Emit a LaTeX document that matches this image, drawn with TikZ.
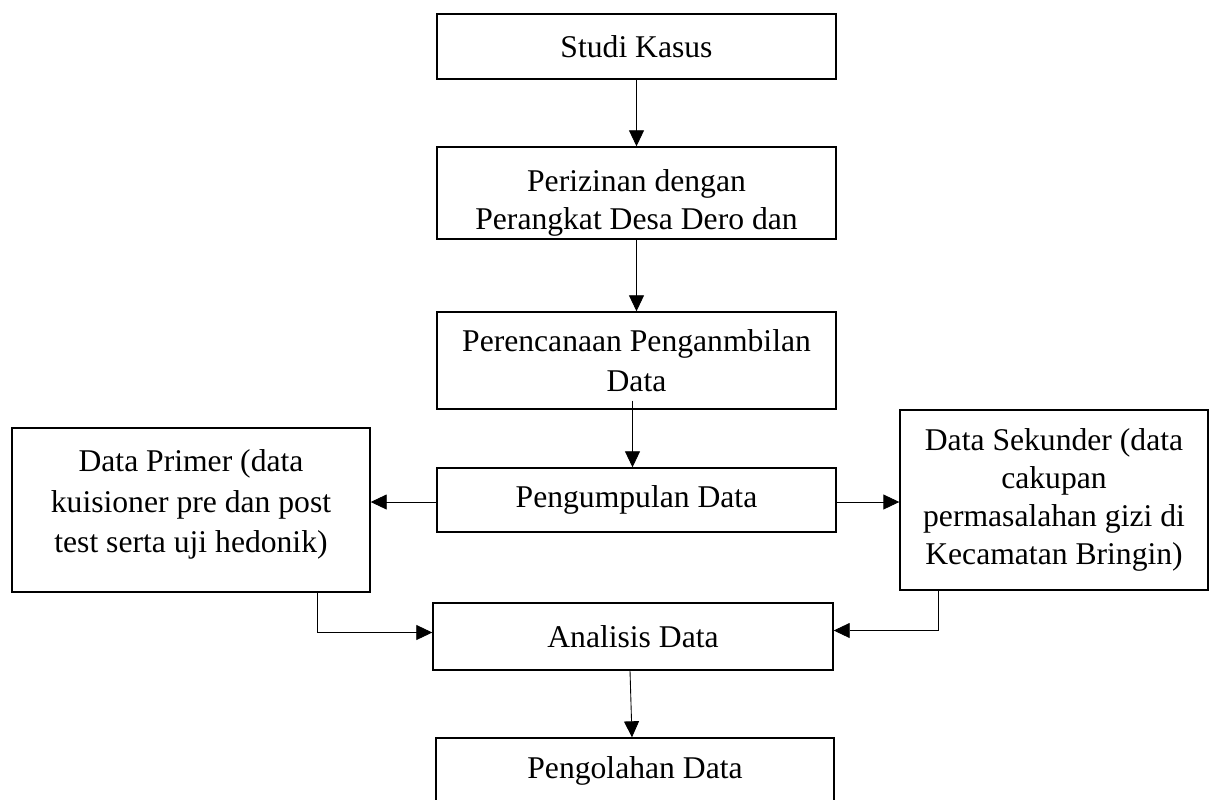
\documentclass[tikz,border=0pt]{standalone}
\usepackage{fontspec}
\setmainfont{Liberation Serif}
\usepackage{tikz}
\usetikzlibrary{positioning,arrows.meta,calc}

\tikzset{
  kotak/.style={draw, line width=0.8pt, inner sep=0pt, align=center,
    font=\fontsize{18}{21.5}\selectfont},
  panah/.style={line width=0.5pt, -{Triangle[length=0.32cm,width=0.3cm]}}
}

\begin{document}
\begin{tikzpicture}[x=0.2mm, y=-0.2mm]
    \useasboundingbox (0,0) rectangle (1216,799);
    \clip (0,0) rectangle (1216,799);
    \node[kotak, minimum width=7.98cm, minimum height=1.3cm] (studi) at (636.5,46.5) {Studi Kasus};
    \node[kotak, minimum width=7.98cm, minimum height=1.84cm] (izin) at (636.5,193) {\rule{0pt}{24pt}Perizinan dengan\\Perangkat Desa Dero dan};
    \node[kotak, minimum width=7.98cm, minimum height=1.94cm, font=\fontsize{18}{22.7}\selectfont] (rencana) at (636.5,360.5) {Perencanaan Penganmbilan\\Data};
    \node[kotak, minimum width=7.98cm, minimum height=1.28cm] (kumpul) at (636.5,500) {Pengumpulan Data};
    \node[kotak, minimum width=7.16cm, minimum height=3.28cm, font=\fontsize{18}{23}\selectfont] (primer) at (191,510) {Data Primer (data\\kuisioner pre dan post\\test serta uji hedonik)\rule[-10pt]{0pt}{10pt}};
    \node[kotak, minimum width=6.16cm, minimum height=3.6cm] (sekunder) at (1054,500) {Data Sekunder (data\\cakupan\\permasalahan gizi di\\Kecamatan Bringin)};
    \node[kotak, minimum width=8cm, minimum height=1.34cm] (analisis) at (633,636.5) {Analisis Data};
    \node[kotak, minimum width=7.96cm, minimum height=1.3cm] (olah) at (635,770.5) {Pengolahan Data};

    \draw[panah] (studi.south) -- (izin.north);
    \draw[panah] (izin.south) -- (rencana.north);
    \draw[panah] ([xshift=-0.08cm,yshift=0.18cm]rencana.south) -- ([xshift=-0.08cm]kumpul.north);
    \draw[panah] ([yshift=-0.04cm]kumpul.west) -- ([yshift=-0.04cm]kumpul.west -| primer.east);
    \draw[panah] ([yshift=-0.04cm]kumpul.east) -- ([yshift=-0.04cm]kumpul.east -| sekunder.west);
    \draw[panah] ([xshift=2.52cm]primer.south) |- ([yshift=0.08cm]analisis.west);
    \draw[panah] ([xshift=-2.32cm]sekunder.south) |- ([yshift=0.12cm]analisis.east);
    \draw[panah] ([xshift=-0.06cm]analisis.south) -- ([xshift=-0.06cm]olah.north);
  \end{tikzpicture}
\end{document}
